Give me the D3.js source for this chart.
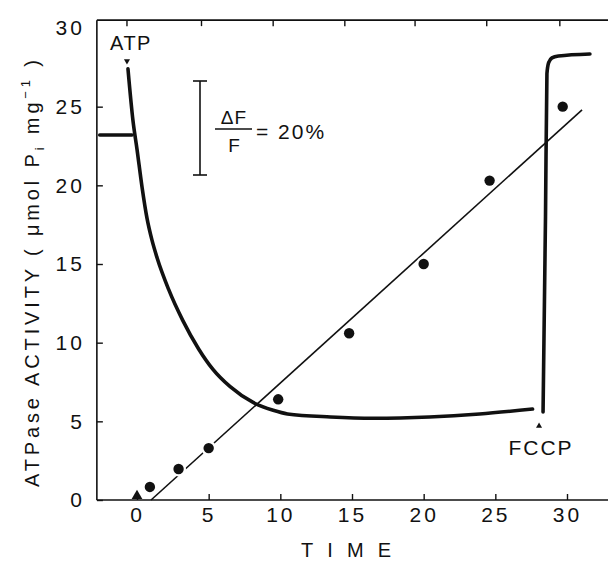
<!DOCTYPE html>
<html><head><meta charset="utf-8">
<script src="https://cdn.jsdelivr.net/npm/d3@7/dist/d3.min.js"></script>
<style>
html,body{margin:0;padding:0;background:#fff;}
svg{display:block;}
text{font-family:"Liberation Sans",Arial,sans-serif;fill:#111;}
</style></head>
<body><svg id="c" width="608" height="561"></svg>
<script>
// ---- data ----
const xTicks = [0, 5, 10, 15, 20, 25, 30];
const yTicks = [0, 5, 10, 15, 20, 25, 30];
const topTicks = [-0.7, 4.5, 9.5, 14.5, 19.4, 24.4, 29.5];

// ATPase activity points (time, µmol Pi mg^-1)
const dotTime = [0.9, 2.9, 5.0, 9.85, 14.8, 20.0, 24.6, 29.7];
const dotVal  = [0.83, 1.97, 3.3, 6.4, 10.6, 15.0, 20.3, 25.0];
const triTime = [0];
const triVal  = [0.2];

// fitted line
const fitTime = [0.98, 31.05];
const fitVal  = [0, 24.8];

// fluorescence trace
const baseTime = [-2.6, -0.35];
const baseVal  = [23.2, 23.2];
const traceTime = [-0.63, -0.28, 0, 0.35, 0.7, 1.05, 1.4, 2.2, 3.2, 4.3, 5.3, 6.5, 8.1, 9.5, 10.5, 13.5, 16.5, 20.4, 23.9, 27.6];
const traceVal  = [27.4, 24.1, 22.3, 19.9, 17.9, 16.5, 15.4, 13.4, 11.4, 9.6, 8.3, 7.2, 6.2, 5.7, 5.47, 5.28, 5.2, 5.28, 5.47, 5.78];
const fccpTime = [28.33, 28.5, 28.6, 28.72, 28.95, 29.4, 31.6];
const fccpVal  = [5.59, 18.0, 27.1, 27.8, 28.1, 28.22, 28.35];

// ---- drawing ----
const svg = d3.select("#c");
const x = d3.scaleLinear().domain([0, 30]).range([137, 567]);
const y = d3.scaleLinear().domain([0, 30]).range([500, 28]);
const xMin = -2.8, xMax = 33, yTop = 30.5;

// frame: top line and axes
svg.append("line").attr("x1", x(xMin)).attr("x2", x(xMax)).attr("y1", y(yTop)).attr("y2", y(yTop))
  .attr("stroke", "#111").attr("stroke-width", 1.6);
svg.selectAll(".tt").data(topTicks).enter().append("line")
  .attr("x1", d => x(d)).attr("x2", d => x(d)).attr("y1", y(yTop)).attr("y2", y(yTop) + 6)
  .attr("stroke", "#111").attr("stroke-width", 1.4);

const gx = svg.append("g").attr("transform", `translate(0,${y(0)})`)
  .call(d3.axisBottom(x).tickValues(xTicks).tickSizeInner(-6).tickSizeOuter(0).tickPadding(7));
gx.select(".domain").attr("d", `M${x(xMin)},0H${x(xMax)}`);
const gy = svg.append("g").attr("transform", `translate(${x(xMin)},0)`)
  .call(d3.axisLeft(y).tickValues(yTicks).tickSizeInner(-6).tickSizeOuter(0).tickPadding(12));
gy.select(".domain").attr("d", `M0,${y(yTop)}V${y(0)}`);
gy.selectAll(".tick").filter(d => d === 30).select("line").remove();
[gx, gy].forEach(g => {
  g.selectAll(".domain").attr("stroke", "#111").attr("stroke-width", 1.6);
  g.selectAll(".tick line").attr("stroke", "#111").attr("stroke-width", 1.4);
  g.selectAll(".tick text").attr("font-size", 21).attr("fill", "#111")
    .attr("font-family", '"Liberation Sans",Arial,sans-serif').attr("letter-spacing", 3);
});

// axis titles
svg.append("text").attr("x", 346).attr("y", 557).attr("text-anchor", "middle")
  .attr("font-size", 20).attr("textLength", 90).attr("lengthAdjust", "spacing").text("TIME");
const yl = svg.append("text").attr("transform", "translate(39,487) rotate(-90)")
  .attr("font-size", 20).attr("textLength", 427).attr("lengthAdjust", "spacing");
yl.append("tspan").text("ATPase ACTIVITY ( \u03bcmol P");
yl.append("tspan").attr("font-size", 13).attr("dy", 5).text("i");
yl.append("tspan").attr("dy", -5).text(" mg");
yl.append("tspan").attr("font-size", 13).attr("dy", -9).text("\u22121");
yl.append("tspan").attr("dy", 9).text(" )");

// fitted line
svg.append("line").attr("x1", x(fitTime[0])).attr("y1", y(fitVal[0]))
  .attr("x2", x(fitTime[1])).attr("y2", y(fitVal[1]))
  .attr("stroke", "#111").attr("stroke-width", 1.6);

// fluorescence trace
const line = d3.line().x(d => x(d[0])).y(d => y(d[1]));
const thick = {stroke: "#111", "stroke-width": 3.6, fill: "none", "stroke-linecap": "round"};
function trace(ts, vs, curve) {
  const p = svg.append("path").datum(ts.map((t, i) => [t, vs[i]]))
    .attr("d", line.curve(curve));
  Object.entries(thick).forEach(([k, v]) => p.attr(k, v));
}
trace(baseTime, baseVal, d3.curveLinear);
trace(traceTime, traceVal, d3.curveMonotoneX);
trace(fccpTime, fccpVal, d3.curveMonotoneX);

// points (white halo breaks the fitted line near each point)
const pts = dotTime.map((t, i) => [t, dotVal[i]]);
svg.selectAll(".halo").data(pts).enter().append("circle")
  .attr("cx", d => x(d[0])).attr("cy", d => y(d[1])).attr("r", 7.5).attr("fill", "#fff");
svg.selectAll(".dot").data(pts).enter().append("circle")
  .attr("cx", d => x(d[0])).attr("cy", d => y(d[1])).attr("r", 5.2).attr("fill", "#111");
svg.selectAll(".tri").data(triTime.map((t, i) => [t, triVal[i]])).enter().append("path")
  .attr("transform", d => `translate(${x(d[0])},${y(d[1]) - 1})`)
  .attr("d", d3.symbol(d3.symbolTriangle, 50)).attr("fill", "#111");

// annotations
svg.append("text").attr("x", 131).attr("y", 50).attr("text-anchor", "middle")
  .attr("font-size", 20).attr("letter-spacing", 1.5).text("ATP");
svg.append("path").attr("transform", `translate(${x(-0.7)},${y(27.9)}) rotate(180)`)
  .attr("d", d3.symbol(d3.symbolTriangle, 16)).attr("fill", "#111");
svg.append("text").attr("x", 541).attr("y", 455).attr("text-anchor", "middle")
  .attr("font-size", 21).attr("letter-spacing", 2).text("FCCP");
svg.append("path").attr("transform", `translate(${x(28.05)},${y(4.7)})`)
  .attr("d", d3.symbol(d3.symbolTriangle, 16)).attr("fill", "#111");

// scale bar ΔF/F = 20%
const sb = svg.append("g").attr("stroke", "#111").attr("stroke-width", 1.6);
sb.append("line").attr("x1", 200).attr("x2", 200).attr("y1", 81).attr("y2", 175);
sb.append("line").attr("x1", 193).attr("x2", 207).attr("y1", 81).attr("y2", 81);
sb.append("line").attr("x1", 193).attr("x2", 207).attr("y1", 175).attr("y2", 175);
sb.append("line").attr("x1", 215).attr("x2", 252).attr("y1", 129).attr("y2", 129);
svg.append("text").attr("x", 234).attr("y", 124).attr("text-anchor", "middle")
  .attr("font-size", 19).attr("letter-spacing", 1).text("\u0394F");
svg.append("text").attr("x", 234).attr("y", 152).attr("text-anchor", "middle")
  .attr("font-size", 19).text("F");
svg.append("text").attr("x", 256).attr("y", 139)
  .attr("font-size", 21).attr("letter-spacing", 2).text("= 20%");
</script></body></html>
